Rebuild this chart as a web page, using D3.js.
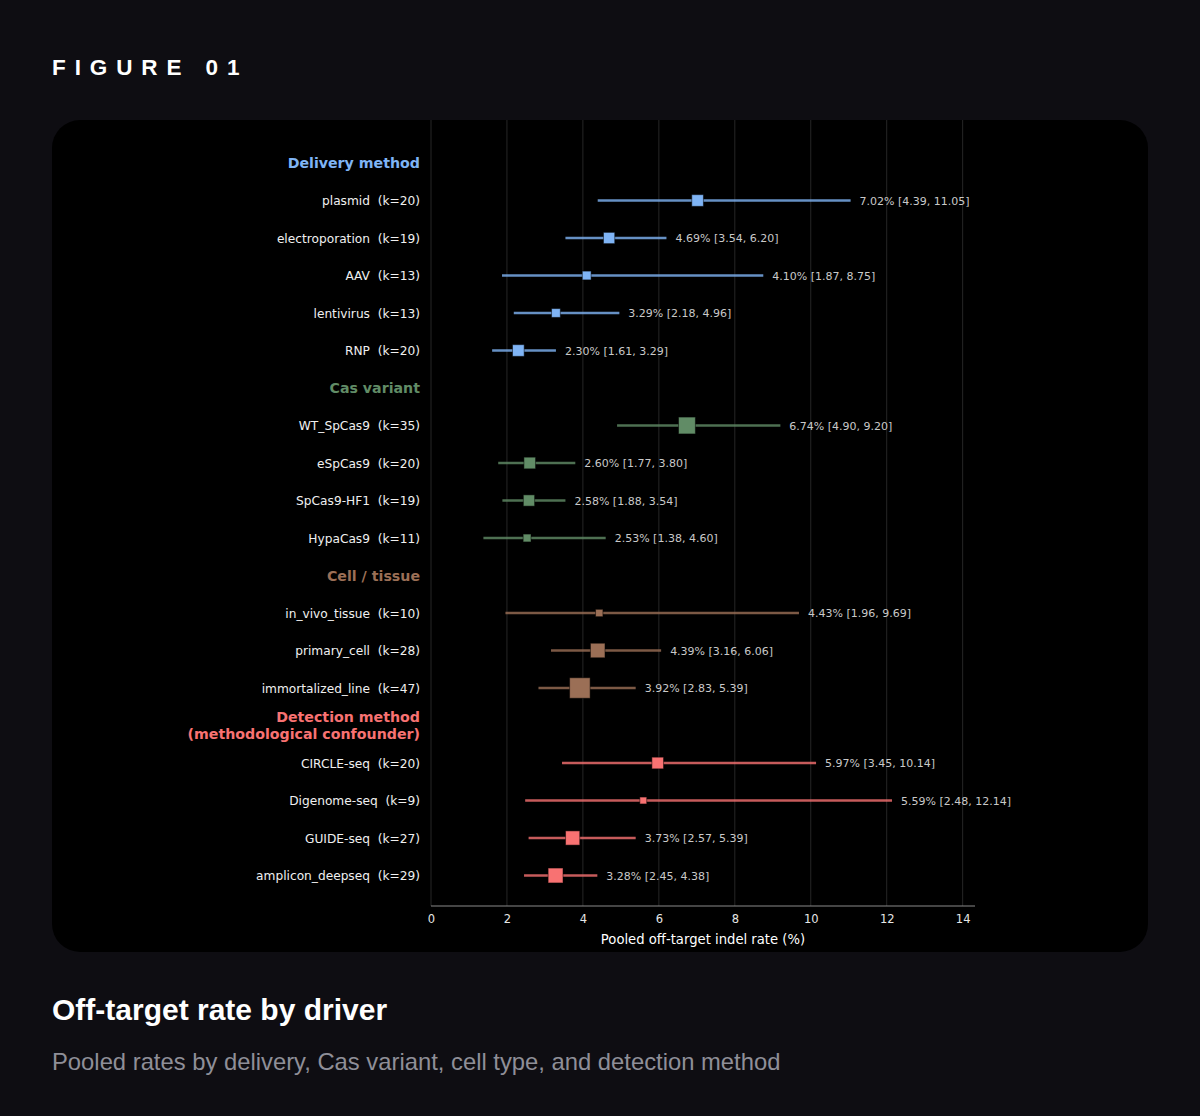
<!DOCTYPE html>
<html>
<head>
<meta charset="utf-8">
<script src="https://cdn.jsdelivr.net/npm/d3@7"></script>
<style>
  html, body { margin: 0; padding: 0; background: #0e0d12; }
  svg { display: block; }
</style>
</head>
<body>
<div id="chart"></div>
<script>
    // group headers, one per block of rows
    var groups = ["Delivery method", "Cas variant", "Cell / tissue", "Detection method\n(methodological confounder)"];
    var groupColors = ["#7fb4f5", "#618c66", "#9b6f56", "#f87272"];

    // rows
    var names = ["plasmid", "electroporation", "AAV", "lentivirus", "RNP",
                 "WT_SpCas9", "eSpCas9", "SpCas9-HF1", "HypaCas9",
                 "in_vivo_tissue", "primary_cell", "immortalized_line",
                 "CIRCLE-seq", "Digenome-seq", "GUIDE-seq", "amplicon_deepseq"];
    var rowGroup = [0, 0, 0, 0, 0, 1, 1, 1, 1, 2, 2, 2, 3, 3, 3, 3];
    var kStudies = [20, 19, 13, 13, 20, 35, 20, 19, 11, 10, 28, 47, 20, 9, 27, 29];
    var pooled = [7.02, 4.69, 4.10, 3.29, 2.30, 6.74, 2.60, 2.58, 2.53, 4.43, 4.39, 3.92, 5.97, 5.59, 3.73, 3.28];
    var ciLow = [4.39, 3.54, 1.87, 2.18, 1.61, 4.90, 1.77, 1.88, 1.38, 1.96, 3.16, 2.83, 3.45, 2.48, 2.57, 2.45];
    var ciHigh = [11.05, 6.20, 8.75, 4.96, 3.29, 9.20, 3.80, 3.54, 4.60, 9.69, 6.06, 5.39, 10.14, 12.14, 5.39, 4.38];
    var xTicks = [0, 2, 4, 6, 8, 10, 12, 14];

    var width = 1200, height = 1116;

    var svg = d3.select('#chart').append('svg')
                .attr('width', width)
                .attr('height', height);

    // build slot list: header then its rows
    var slots = [];
    groups.forEach(function(g, gi) {
        slots.push({type: 'head', text: g, g: gi});
        names.forEach(function(n, i) {
            if (rowGroup[i] === gi) slots.push({type: 'row', i: i, g: gi});
        });
    });

    var x = d3.scaleLinear()
              .domain([0, d3.max(ciHigh) * 1.18])
              .range([431, 975]);

    var y = d3.scalePoint()
              .domain(d3.range(slots.length))
              .range([163, 875.5]);

    // marker side from number of studies
    var size = d3.scalePow().exponent(0.66)
                 .domain([0, d3.max(kStudies)])
                 .range([0, 20.5]);

    // header text
    svg.append('text')
       .attr('x', 52).attr('y', 75)
       .attr('fill', '#ffffff')
       .style('font-family', '"Liberation Sans", Arial, sans-serif')
       .style('font-weight', 'bold')
       .style('font-size', '22.5px')
       .style('letter-spacing', '8.9px')
       .text('FIGURE 01');

    // card
    svg.append('rect')
       .attr('x', 52).attr('y', 120)
       .attr('width', 1096).attr('height', 832)
       .attr('rx', 28)
       .attr('fill', '#000000');

    // grid
    svg.append('g').selectAll('line')
       .data(xTicks)
       .enter().append('line')
       .attr('x1', function(d) { return x(d); })
       .attr('x2', function(d) { return x(d); })
       .attr('y1', 120).attr('y2', 906)
       .attr('stroke', '#262626')
       .attr('stroke-width', 1);

    var font = '"DejaVu Sans", sans-serif';

    // x axis
    var axis = svg.append('g')
       .attr('transform', 'translate(0,906)')
       .call(d3.axisBottom(x).tickValues(xTicks).tickSize(0).tickPadding(9).tickFormat(d3.format('d')));
    axis.select('.domain').attr('stroke', '#8a8a8a').attr('d', 'M' + x.range()[0] + ',0H' + x.range()[1]);
    axis.selectAll('text')
        .attr('fill', '#e6e6e6')
        .style('font-family', font)
        .style('font-size', '11.5px');

    svg.append('text')
       .attr('x', (x(0) + x.range()[1]) / 2).attr('y', 944)
       .attr('text-anchor', 'middle')
       .attr('fill', '#ffffff')
       .style('font-family', font)
       .style('font-size', '13.2px')
       .text('Pooled off-target indel rate (%)');

    // group headers
    slots.forEach(function(s, si) {
        if (s.type !== 'head') return;
        var lines = s.text.split('\n');
        var t = svg.append('text')
           .attr('x', 420)
           .attr('text-anchor', 'end')
           .attr('fill', groupColors[s.g])
           .style('font-family', font)
           .style('font-weight', 'bold')
           .style('font-size', '14.2px');
        lines.forEach(function(l, li) {
            t.append('tspan')
             .attr('x', 420)
             .attr('y', y(si) + 5 + (li - (lines.length - 1) / 2) * 17)
             .text(l);
        });
    });

    var rows = slots.map(function(s, si) { return {s: s, si: si}; })
                    .filter(function(d) { return d.s.type === 'row'; });

    // row labels
    svg.append('g').selectAll('text')
       .data(rows)
       .enter().append('text')
       .attr('x', 420)
       .attr('y', function(d) { return y(d.si) + 4.5; })
       .attr('text-anchor', 'end')
       .attr('fill', '#f0f0f0')
       .attr('xml:space', 'preserve')
       .style('white-space', 'pre')
       .style('font-family', font)
       .style('font-size', '12.2px')
       .text(function(d) { return names[d.s.i] + '  (k=' + kStudies[d.s.i] + ')'; });

    // CI lines
    svg.append('g').selectAll('line')
       .data(rows)
       .enter().append('line')
       .attr('x1', function(d) { return x(ciLow[d.s.i]); })
       .attr('x2', function(d) { return x(ciHigh[d.s.i]); })
       .attr('y1', function(d) { return y(d.si); })
       .attr('y2', function(d) { return y(d.si); })
       .attr('stroke', function(d) { return groupColors[d.s.g]; })
       .attr('stroke-opacity', 0.8)
       .attr('stroke-width', 2.3);

    // squares
    svg.append('g').selectAll('rect')
       .data(rows)
       .enter().append('rect')
       .attr('x', function(d) { return x(pooled[d.s.i]) - size(kStudies[d.s.i]) / 2; })
       .attr('y', function(d) { return y(d.si) - size(kStudies[d.s.i]) / 2; })
       .attr('width', function(d) { return size(kStudies[d.s.i]); })
       .attr('height', function(d) { return size(kStudies[d.s.i]); })
       .attr('fill', function(d) { return groupColors[d.s.g]; })
       .attr('stroke', '#000')
       .attr('stroke-opacity', 0.5)
       .attr('stroke-width', 1);

    // value annotations
    var f2 = d3.format('.2f');
    svg.append('g').selectAll('text')
       .data(rows)
       .enter().append('text')
       .attr('x', function(d) { return x(ciHigh[d.s.i]) + 9; })
       .attr('y', function(d) { return y(d.si) + 4; })
       .attr('fill', '#c9c9c9')
       .style('font-family', font)
       .style('font-size', '11px')
       .text(function(d) {
           var i = d.s.i;
           return f2(pooled[i]) + '% [' + f2(ciLow[i]) + ', ' + f2(ciHigh[i]) + ']';
       });

    // title + subtitle
    svg.append('text')
       .attr('x', 52).attr('y', 1020)
       .attr('fill', '#ffffff')
       .style('font-family', '"Liberation Sans", Arial, sans-serif')
       .style('font-weight', 'bold')
       .style('font-size', '30px')
       .text('Off-target rate by driver');

    svg.append('text')
       .attr('x', 52).attr('y', 1070)
       .attr('fill', '#8f8f98')
       .style('font-family', '"Liberation Sans", Arial, sans-serif')
       .style('font-size', '23.8px')
       .text('Pooled rates by delivery, Cas variant, cell type, and detection method');
</script>
</body>
</html>
